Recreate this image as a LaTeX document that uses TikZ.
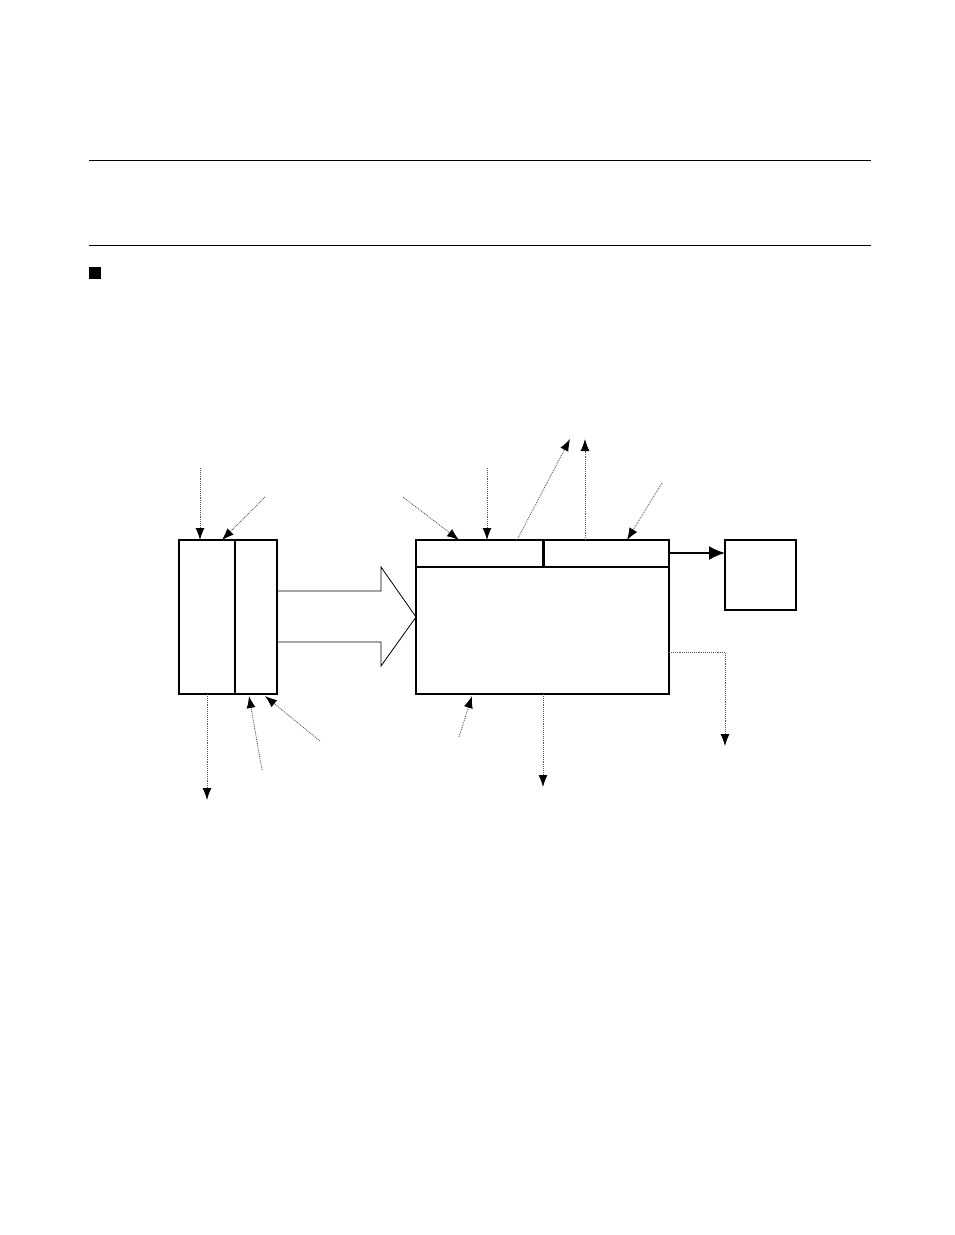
\documentclass[tikz,border=0pt]{standalone}
\usetikzlibrary{arrows.meta}
\begin{document}
\begin{tikzpicture}[x=1pt,y=-1pt,
  boxstyle/.style={draw,line width=2pt,inner sep=0pt,outer sep=0pt},
  sig/.style={densely dotted,line width=0.9pt,draw=black!65,-{Latex[length=12pt,width=9pt,black]}},
  thin rule/.style={line width=1pt}]
\useasboundingbox (0,0) rectangle (954,1235);
% rules and bullet
\coordinate (r1a) at (89,160); \coordinate (r1b) at (871,160);
\coordinate (r2a) at (89,245); \coordinate (r2b) at (871,245);
\draw[thin rule] (r1a) -- (r1b);
\draw[thin rule] (r2a) -- (r2b);
\node[fill=black,minimum size=12pt,inner sep=0pt] (bullet) at (95,273) {};
% big arrow (drawn first so the boxes lie on top)
\draw[line width=0.8pt] (277,591) -- (381,591) -- (381,567) -- (416,617) -- (381,666) -- (381,642) -- (277,642);
% left box
\node[boxstyle,minimum width=98pt,minimum height=154pt] (L) at (228,617) {};
\draw[line width=2pt] (235,540) -- (235,694);
% centre box
\node[boxstyle,minimum width=253pt,minimum height=154pt] (C) at (542.5,617) {};
\draw[line width=2pt] (416,567) -- (669,567);
\draw[line width=3pt] (543,540) -- (543,567);
% small box
\node[boxstyle,minimum width=71pt,minimum height=70pt] (S) at (760.5,575) {};
\coordinate (cs) at (669,553);
\draw[line width=2pt,-{Latex[length=16pt,width=14pt]}] (cs) -- (S.west |- cs);
% dotted signal arrows
\coordinate (a1) at (200,468); \coordinate (a1e) at (200,540);
\coordinate (a2) at (265,497); \coordinate (a2e) at (222,540);
\coordinate (a3) at (207,694); \coordinate (a3e) at (207,800);
\coordinate (a4) at (262,770); \coordinate (a4e) at (249,696);
\coordinate (a5) at (320,741); \coordinate (a5e) at (265,696);
\coordinate (b1) at (403,497); \coordinate (b1e) at (459,540);
\coordinate (b2) at (487,468); \coordinate (b2e) at (487,540);
\coordinate (b3) at (517,540); \coordinate (b3e) at (570,439);
\coordinate (b4) at (585,540); \coordinate (b4e) at (585,439);
\coordinate (b5) at (662,483); \coordinate (b5e) at (627,540);
\coordinate (b6) at (459,737); \coordinate (b6e) at (472,696);
\coordinate (b7) at (543,694); \coordinate (b7e) at (543,787);
\coordinate (b8) at (669,652); \coordinate (b8m) at (725,652); \coordinate (b8e) at (725,746);
\foreach \s/\e in {a1/a1e,a2/a2e,a3/a3e,a4/a4e,a5/a5e,b1/b1e,b2/b2e,b3/b3e,b4/b4e,b5/b5e,b6/b6e,b7/b7e}
  \draw[sig] (\s) -- (\e);
\draw[sig] (b8) -- (b8m) -- (b8e);
\end{tikzpicture}
\end{document}
